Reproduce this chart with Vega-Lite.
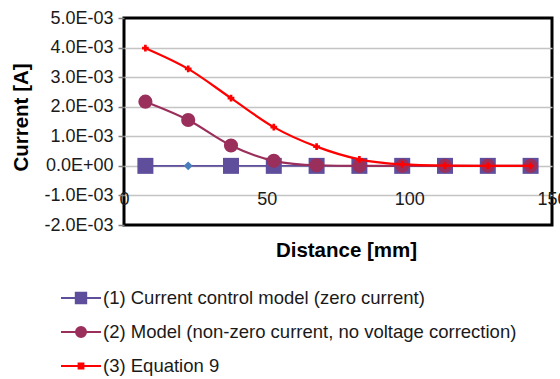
{
  "$schema": "https://vega.github.io/schema/vega-lite/v6.json",
  "autosize": {"type": "none"},
  "width": 428,
  "height": 207,
  "padding": {"left": 124, "top": 18, "right": 8, "bottom": 154},
  "background": "#ffffff",
  "view": {"stroke": "#000000", "strokeWidth": 3},
  "config": {
    "font": "Liberation Sans",
    "view": {"stroke": "#000000", "strokeWidth": 3},
    "axis": {"labelFont": "Liberation Sans", "titleFont": "Liberation Sans"}
  },
  "data": {
    "values": [
      {"series": "(1) Current control model (zero current)", "distance": 7.5, "current": 0},
      {"series": "(1) Current control model (zero current)", "distance": 22.5, "current": 0},
      {"series": "(1) Current control model (zero current)", "distance": 37.5, "current": 0},
      {"series": "(1) Current control model (zero current)", "distance": 52.5, "current": 0},
      {"series": "(1) Current control model (zero current)", "distance": 67.5, "current": 0},
      {"series": "(1) Current control model (zero current)", "distance": 82.5, "current": 0},
      {"series": "(1) Current control model (zero current)", "distance": 97.5, "current": 0},
      {"series": "(1) Current control model (zero current)", "distance": 112.5, "current": 0},
      {"series": "(1) Current control model (zero current)", "distance": 127.5, "current": 0},
      {"series": "(1) Current control model (zero current)", "distance": 142.5, "current": 0},
      {"series": "(2) Model (non-zero current, no voltage correction)", "distance": 7.5, "current": 0.00217},
      {"series": "(2) Model (non-zero current, no voltage correction)", "distance": 22.5, "current": 0.00155},
      {"series": "(2) Model (non-zero current, no voltage correction)", "distance": 37.5, "current": 0.00069},
      {"series": "(2) Model (non-zero current, no voltage correction)", "distance": 52.5, "current": 0.00017},
      {"series": "(2) Model (non-zero current, no voltage correction)", "distance": 67.5, "current": 0.00002},
      {"series": "(2) Model (non-zero current, no voltage correction)", "distance": 82.5, "current": 0},
      {"series": "(2) Model (non-zero current, no voltage correction)", "distance": 97.5, "current": 0},
      {"series": "(2) Model (non-zero current, no voltage correction)", "distance": 112.5, "current": 0},
      {"series": "(2) Model (non-zero current, no voltage correction)", "distance": 127.5, "current": 0},
      {"series": "(2) Model (non-zero current, no voltage correction)", "distance": 142.5, "current": 0},
      {"series": "(3) Equation 9", "distance": 7.5, "current": 0.00398},
      {"series": "(3) Equation 9", "distance": 22.5, "current": 0.00328},
      {"series": "(3) Equation 9", "distance": 37.5, "current": 0.00229},
      {"series": "(3) Equation 9", "distance": 52.5, "current": 0.00131},
      {"series": "(3) Equation 9", "distance": 67.5, "current": 0.00065},
      {"series": "(3) Equation 9", "distance": 82.5, "current": 0.00022},
      {"series": "(3) Equation 9", "distance": 97.5, "current": 0.00005},
      {"series": "(3) Equation 9", "distance": 112.5, "current": 0.00001},
      {"series": "(3) Equation 9", "distance": 127.5, "current": 0},
      {"series": "(3) Equation 9", "distance": 142.5, "current": 0}
    ]
  },
  "encoding": {
    "x": {
      "field": "distance", "type": "quantitative",
      "scale": {"domain": [0, 150], "nice": false, "zero": false},
      "axis": {
        "title": "Distance [mm]", "titleFontSize": 20.5, "titleFontWeight": "bold", "titleColor": "#000000",
        "titleBaseline": "middle", "titleY": 25, "titleX": 222,
        "values": [0, 50, 100, 150], "labelFontSize": 18, "labelColor": "#1a1a1a",
        "labelPadding": -35, "labelFlush": false, "labelOverlap": false,
        "domain": false, "ticks": false, "grid": false
      }
    },
    "y": {
      "field": "current", "type": "quantitative",
      "scale": {"domain": [-0.002, 0.005], "nice": false, "zero": false},
      "axis": {
        "title": "Current [A]", "titleFontSize": 20.5, "titleFontWeight": "bold", "titleColor": "#000000",
        "titleBaseline": "middle", "titleX": -103, "titleY": 99,
        "values": [-0.002, -0.001, 0, 0.001, 0.002, 0.003, 0.004, 0.005],
        "labelExpr": "datum.value == 0 ? '0.0E+00' : (datum.value < 0 ? '-' : '') + format(abs(datum.value) * 1000, '.1f') + 'E-03'",
        "labelFontSize": 18, "labelColor": "#1a1a1a", "labelPadding": 5, "labelFlush": false, "labelOverlap": false,
        "domain": false, "ticks": true, "tickSize": 6, "tickColor": "#808080", "tickWidth": 1.5,
        "grid": true, "gridColor": "#c4c4c4", "gridWidth": 1.5,
        "gridOpacity": {"condition": {"test": "datum.value >= 0.005 || datum.value <= -0.002", "value": 0}, "value": 1}
      }
    },
    "color": {
      "field": "series", "type": "nominal",
      "scale": {
        "domain": ["(1) Current control model (zero current)", "(2) Model (non-zero current, no voltage correction)", "(3) Equation 9"],
        "range": ["#5e4e9c", "#9b2f5c", "#ff0000"]
      },
      "legend": {
        "title": null, "orient": "none", "legendX": -64, "legendY": 259,
        "padding": 0, "labelFont": "Liberation Sans", "labelFontSize": 18.5, "labelColor": "#1a1a1a",
        "labelLimit": 600, "labelOffset": 1, "rowPadding": 3, "symbolSize": 1600,
        "encode": {
          "symbols": {
            "update": {
              "shape": {"signal": "indexof(datum.value, '(1)') == 0 ? 'M-1,0H1M-0.26,-0.26H0.26V0.26H-0.26Z' : (indexof(datum.value, '(2)') == 0 ? 'M-1,0H1M-0.25,0A0.25,0.25,0,1,0,0.25,0A0.25,0.25,0,1,0,-0.25,0Z' : 'M-1,0H1M-0.12,-0.12H0.12V0.12H-0.12Z')"},
              "stroke": {"signal": "scale('color', datum.value)"},
              "fill": {"signal": "scale('color', datum.value)"},
              "strokeWidth": {"value": 2},
              "size": {"value": 1600},
              "opacity": {"value": 1},
              "fillOpacity": {"value": 1},
              "strokeOpacity": {"value": 1}
            }
          }
        }
      }
    }
  },
  "layer": [
    {
      "transform": [{"filter": "indexof(datum.series, '(1)') == 0"}],
      "mark": {"type": "line", "strokeWidth": 1.8, "interpolate": "monotone"}
    },
    {
      "transform": [{"filter": "indexof(datum.series, '(1)') == 0 && datum.distance != 22.5"}],
      "mark": {"type": "point", "shape": "square", "filled": true, "size": 256, "opacity": 1}
    },
    {
      "transform": [{"filter": "indexof(datum.series, '(1)') == 0 && datum.distance == 22.5"}],
      "mark": {"type": "point", "shape": "diamond", "filled": true, "size": 80, "opacity": 1, "color": "#4a7ebb"},
      "encoding": {"color": {"value": "#4a7ebb"}}
    },
    {
      "transform": [{"filter": "indexof(datum.series, '(2)') == 0"}],
      "mark": {"type": "line", "strokeWidth": 2.2, "interpolate": "monotone"}
    },
    {
      "transform": [{"filter": "indexof(datum.series, '(2)') == 0"}],
      "mark": {"type": "point", "shape": "circle", "filled": true, "size": 200, "opacity": 1}
    },
    {
      "transform": [{"filter": "indexof(datum.series, '(3)') == 0"}],
      "mark": {"type": "line", "strokeWidth": 2.2, "interpolate": "monotone"}
    },
    {
      "transform": [{"filter": "indexof(datum.series, '(3)') == 0"}],
      "mark": {"type": "point", "shape": "cross", "filled": true, "size": 45, "opacity": 1}
    }
  ]
}
